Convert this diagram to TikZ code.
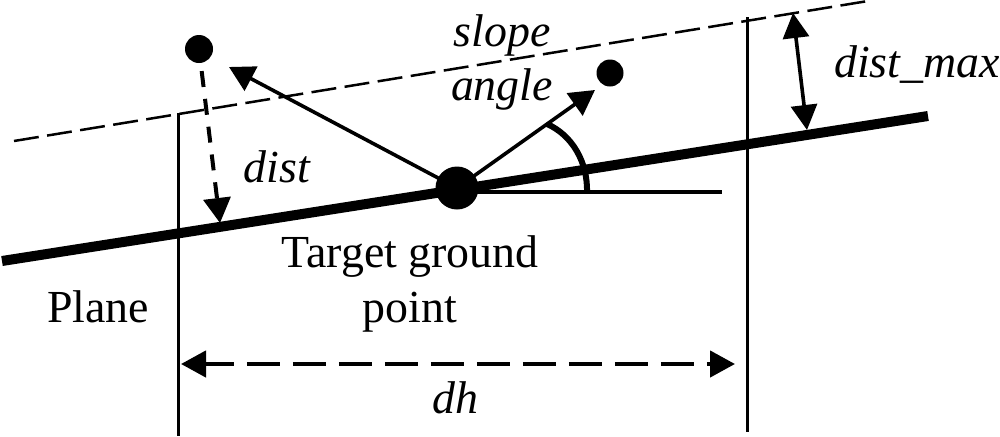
\documentclass[tikz,border=0pt]{standalone}
\usepackage{fontspec}
\setmainfont{Liberation Serif}
\usetikzlibrary{arrows.meta}
\begin{document}
\begin{tikzpicture}[x=0.85pt,y=-0.85pt,
  lbl/.style={font=\fontsize{39}{44}\selectfont,inner sep=0pt,anchor=base},
  ilbl/.style={font=\fontsize{39}{44}\selectfont\itshape,inner sep=0pt,anchor=base},
  dotn/.style={circle,fill=black,inner sep=0pt,minimum size=#1*0.85pt},
  thinln/.style={line width=3*0.85pt},
  medln/.style={line width=3.6*0.85pt},
  arr/.style={-{Triangle[length=25*0.85pt,width=27*0.85pt]},medln},
  darr/.style={{Triangle[length=25*0.85pt,width=26*0.85pt]}-{Triangle[length=25*0.85pt,width=26*0.85pt]},medln},
]
\useasboundingbox (0,0) rectangle (1000,436);
\fill[white] (0,0) rectangle (1000,436);
\coordinate (pl) at (2,261);
\coordinate (pr) at (928,116);
\coordinate (sl) at (14,141);
\coordinate (sr) at (868,1);
\coordinate (vl1) at (178,113);
\coordinate (vl2) at (178,436);
\coordinate (vr1) at (747,17);
\coordinate (vr2) at (747,432);
\coordinate (hzl) at (457,191.5);
\coordinate (hz) at (722,191.5);
\coordinate (a1) at (229,67);
\coordinate (a2) at (595,90);
\coordinate (dt) at (220,223);
\coordinate (dh1) at (181,364);
\coordinate (dh2) at (735,364);
\coordinate (dm1) at (793,13);
\coordinate (dm2) at (807,130);
\coordinate (ac1) at (547,124);
\coordinate (ac2) at (587,193);
\draw[line width=10*0.85pt] (pl) -- (pr);
\draw[dash pattern=on 25*0.85pt off 8.5*0.85pt,line width=2.5*0.85pt] (sl) -- (sr);
\draw[thinln] (vl1) -- (vl2);
\draw[thinln] (vr1) -- (vr2);
\node[dotn=43] (tg) at (457,188) {};
\node[dotn=28] (p1) at (199,49) {};
\node[dotn=27] (p2) at (610,73) {};
\draw[line width=4*0.85pt] (hzl) -- (hz);
\draw[arr] (tg.center) -- (a1);
\draw[arr] (tg.center) -- (a2);
\draw[line width=6*0.85pt] (ac1) .. controls (572,135) and (588,162) .. (ac2);
\draw[arr,line width=4*0.85pt,dash pattern=on 16*0.85pt off 12*0.85pt,shorten <=8*0.85pt] (p1) -- (dt);
\draw[darr,line width=4.5*0.85pt,dash pattern=on 33.5*0.85pt off 12.5*0.85pt,dash phase=4*0.85pt] (dh1) -- (dh2);
\draw[darr] (dm1) -- (dm2);
\node[ilbl] (t1) at (502,46) {slope};
\node[ilbl] (t2) at (502,100) {angle};
\node[ilbl] (t3) at (277,182) {dist};
\node[ilbl] (t4) at (917,77) {dist\_max};
\node[lbl] (t5) at (410,267) {Target ground};
\node[lbl] (t6) at (410,322) {point};
\node[lbl] (t7) at (98,322) {Plane};
\node[ilbl] (t8) at (455,413) {dh};
\end{tikzpicture}
\end{document}
